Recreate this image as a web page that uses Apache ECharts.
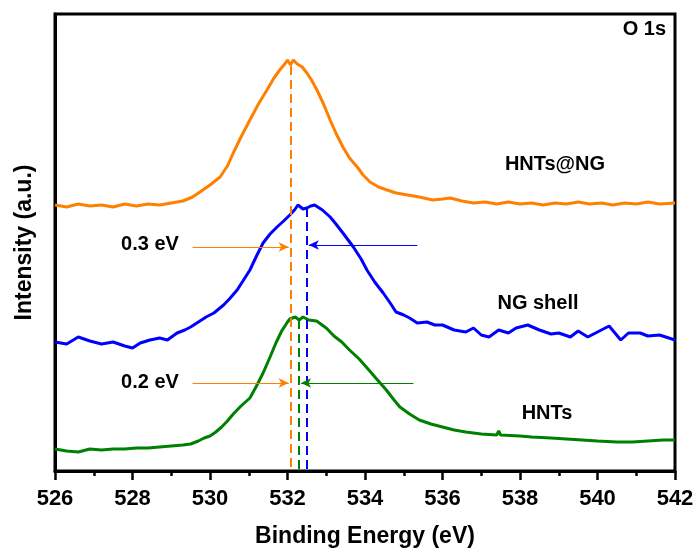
<!DOCTYPE html>
<html>
<head>
<meta charset="utf-8">
<script src="https://cdn.jsdelivr.net/npm/echarts@6/dist/echarts.min.js"></script>
<style>
  html, body { margin: 0; padding: 0; background: #fff; }
  #main { width: 700px; height: 553px; }
</style>
</head>
<body>
<div id="main"></div>
<script>
// binding energy (eV) / intensity (a.u., stacked offsets as plotted)
var hntsNg = [
  [526.0,266],[526.3,264],[526.6,267],[526.9,265],[527.2,266],[527.5,264],[527.8,267],[528.1,265],
  [528.4,267],[528.7,266],[529.0,268],[529.3,270],[529.55,274],[529.74,279],[530.0,286],[530.26,294],
  [530.45,305],[530.6,318],[530.8,334],[531.03,351],[531.25,367],[531.47,381],[531.65,393],[531.8,401],
  [531.95,408],[532.0,411],[532.08,406],[532.15,411],[532.25,407],[532.38,404],[532.5,398],[532.62,391],
  [532.76,381],[532.93,367],[533.1,351],[533.26,337],[533.43,324],[533.6,313],[533.8,304],[533.95,296],
  [534.13,289],[534.35,284],[534.57,281],[534.8,278],[535.1,276],[535.4,274],[535.75,271],[536.0,272],
  [536.2,273],[536.5,270],[536.8,268],[537.1,269],[537.4,267],[537.7,269],[538.0,267],[538.3,268],
  [538.6,266],[538.9,268],[539.2,267],[539.5,269],[539.8,267],[540.1,268],[540.4,266],[540.7,268],
  [541.0,267],[541.3,269],[541.6,267],[542.0,268]
];
var ngShell = [
  [526.0,129],[526.3,127],[526.6,134],[526.9,130],[527.2,127],[527.5,129],[527.8,125],[528.0,123],
  [528.2,128],[528.45,131],[528.7,133],[528.9,131],[529.15,138],[529.35,141],[529.5,144],[529.7,149],
  [529.9,154],[530.1,158],[530.35,166],[530.5,172],[530.7,181],[530.85,190],[531.03,201],[531.2,215],
  [531.37,228],[531.55,237],[531.73,244],[531.9,250],[532.06,256],[532.18,261],[532.27,266],[532.4,262],
  [532.5,263],[532.6,265],[532.7,266],[532.9,261],[533.1,254],[533.25,247],[533.43,238],[533.7,224],
  [533.9,212],[534.05,201],[534.25,189],[534.47,178],[534.65,168],[534.8,159],[535.0,156],[535.15,153],
  [535.35,148],[535.6,149],[535.8,146],[536.0,146],[536.3,141],[536.6,139],[536.8,143],[537.0,136],
  [537.2,134],[537.45,141],[537.7,138],[537.9,143],[538.2,146],[538.5,141],[538.8,137],[539.0,138],
  [539.3,134],[539.5,140],[539.75,134],[540.0,139],[540.3,145],[540.6,131],[540.8,138],[541.1,138],
  [541.3,135],[541.6,136],[542.0,131]
];
var hnts = [
  [526.0,22],[526.3,20],[526.6,19],[526.9,22],[527.2,21],[527.5,22],[527.8,22],[528.1,23],
  [528.4,23],[528.7,24],[529.0,25],[529.3,26],[529.5,27],[529.7,30],[529.85,33],[530.0,35],
  [530.15,39],[530.3,44],[530.45,50],[530.6,57],[530.8,65],[531.03,73],[531.2,85],[531.37,98],
  [531.55,114],[531.7,128],[531.85,140],[532.0,149],[532.06,152],[532.2,154],[532.3,151],[532.4,154],
  [532.55,151],[532.75,150],[533.0,143],[533.2,135],[533.4,129],[533.6,121],[533.85,112],[534.1,101],
  [534.3,92],[534.55,81],[534.75,71],[534.9,64],[535.15,57],[535.4,51],[535.7,47],[536.0,44],
  [536.3,41],[536.6,39],[537.0,37],[537.4,36],[537.45,40],[537.5,36],[538.0,35],[538.3,34],
  [538.8,33],[539.2,32],[539.6,31],[540.0,30],[540.5,29],[540.9,29],[541.3,30],[541.7,31],[542.0,31]
];
// peak positions [energy, top of dashed marker]
var peakNg = [532.08, 405];
var peakShell = [532.5, 263];
var peakHnts = [532.3, 151];
// shift arrows [fromX, toX, y]
var arrowNgTop = [529.55, 532.03, 224];
var arrowShell = [535.35, 532.55, 226];
var arrowNgBottom = [529.55, 532.03, 88];
var arrowHnts = [535.25, 532.35, 88];
var xTicks = [526, 528, 530, 532, 534, 536, 538, 540, 542];

var ORANGE = '#FF8000', BLUE = '#0000FF', GREEN = '#008000';
var FONT = 'Liberation Sans, Arial, sans-serif';

function vline(p, color) {
  return [
    { coord: [p[0], p[1]], symbol: 'none', lineStyle: { color: color, type: [9, 5], width: 2 } },
    { coord: [p[0], 0], symbol: 'none' }
  ];
}
function arrow(a, color) {
  return [
    { coord: [a[0], a[2]], symbol: 'none', lineStyle: { color: color, type: 'solid', width: 1 } },
    { coord: [a[1], a[2]], symbol: 'arrow', symbolSize: [7, 10] }
  ];
}
function curve(name, data, color, marks) {
  return {
    name: name,
    type: 'line',
    data: data,
    showSymbol: false,
    smooth: false,
    lineStyle: { color: color, width: 3 },
    itemStyle: { color: color },
    z: 3,
    markLine: {
      silent: true,
      animation: false,
      label: { show: false },
      data: marks
    }
  };
}
function note(text, x, y) {
  return { type: 'text', x: x, y: y, style: { text: text, align: 'center', verticalAlign: 'middle',
    fontFamily: FONT, fontSize: 20, fontWeight: 'bold', fill: '#000' } };
}

var chart = echarts.init(document.getElementById('main'));
chart.setOption({
  animation: false,
  backgroundColor: '#fff',
  grid: { left: 55, right: 25, top: 14, bottom: 82, containLabel: false, outerBoundsMode: 'none',
    show: true, borderColor: '#000', borderWidth: 3 },
  xAxis: {
    type: 'value',
    min: xTicks[0],
    max: xTicks[xTicks.length - 1],
    interval: 2,
    name: 'Binding Energy (eV)',
    nameLocation: 'middle',
    nameGap: 54,
    nameTextStyle: { fontFamily: FONT, fontSize: 23, fontWeight: 'bold', color: '#000' },
    axisLine: { show: true, lineStyle: { color: '#000', width: 3 } },
    axisTick: { show: true, inside: false, length: 9, lineStyle: { color: '#000', width: 2.5 } },
    minorTick: { show: true, splitNumber: 2, length: 5, lineStyle: { color: '#000', width: 2.5 } },
    axisLabel: { margin: 17, fontFamily: FONT, fontSize: 22, fontWeight: 'bold', color: '#000' },
    splitLine: { show: false }
  },
  yAxis: {
    type: 'value',
    min: 0,
    max: 457,
    name: 'Intensity (a.u.)',
    nameLocation: 'middle',
    nameGap: 19,
    nameTextStyle: { fontFamily: FONT, fontSize: 23, fontWeight: 'bold', color: '#000' },
    axisLine: { show: true, lineStyle: { color: '#000', width: 3 } },
    axisTick: { show: false },
    axisLabel: { show: false },
    splitLine: { show: false }
  },
  series: [
    curve('HNTs@NG', hntsNg, ORANGE, [vline(peakNg, ORANGE), arrow(arrowNgTop, ORANGE), arrow(arrowNgBottom, ORANGE)]),
    curve('NG shell', ngShell, BLUE, [vline(peakShell, BLUE), arrow(arrowShell, BLUE)]),
    curve('HNTs', hnts, GREEN, [vline(peakHnts, GREEN), arrow(arrowHnts, GREEN)])
  ],
  graphic: [
    { type: 'text', right: 34, top: 19, style: { text: 'O 1s', fontFamily: FONT, fontSize: 20, fontWeight: 'bold', fill: '#000' } },
    note('HNTs@NG', 555, 164),
    note('NG shell', 538, 303),
    note('HNTs', 547, 413),
    note('0.3 eV', 150, 244),
    note('0.2 eV', 150, 382)
  ]
});
</script>
</body>
</html>
